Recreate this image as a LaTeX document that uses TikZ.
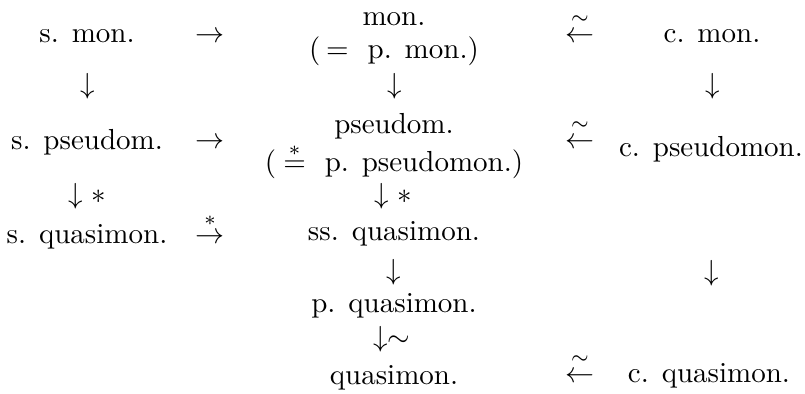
\documentclass[tikz,border=0pt]{standalone}
\usepackage{amsmath}
\begin{document}
\begin{tikzpicture}[x=0.3448pt,y=-0.3448pt,
  txt/.style={anchor=base,inner sep=0pt,outer sep=0pt},
  sym/.style={anchor=base,inner sep=0pt,outer sep=0pt},
  over/.style={anchor=center,inner sep=0pt,outer sep=0pt}]
\useasboundingbox (0,0) rectangle (805,394);
% left column
\node[txt] (smon) at (87,43) {s. mon.};
\node[sym] (d1) at (88,94) {$\downarrow$};
\node[txt] (spseudo) at (87,150) {s. pseudom.};
\node[sym] (d2) at (87.5,204) {$\downarrow *$};
\node[txt] (squasi) at (87,244) {s. quasimon.};
% horizontal arrows, left
\node[sym] (h1) at (210,43) {$\rightarrow$};
\node[sym] (h2) at (210,149) {$\rightarrow$};
\node[sym] (h3) at (210,244) {$\rightarrow$};
\node[over] (h3s) at (210,221) {$\scriptstyle *$};
% centre column
\node[txt] (mon) at (394,26) {mon.};
\node[txt] (pmon) at (394,59) {(\kern2pt$=$\kern6.5pt p. mon.)};
\node[sym] (d3) at (395,94) {$\downarrow$};
\node[txt] (pseudo) at (394,134) {pseudom.};
\node[txt] (ppseudo) at (394,172) {(\kern2.5pt$\stackrel{*}{=}$\kern6.5pt p. pseudomon.)};
\node[sym] (d4) at (393.5,204) {$\downarrow *$};
\node[txt] (ssquasi) at (394,241) {ss. quasimon.};
\node[sym] (d5) at (394,280) {$\downarrow$};
\node[txt] (pquasi) at (394,313) {p. quasimon.};
\node[sym] (d6) at (392,347) {$\downarrow\sim$};
\node[txt] (quasi) at (394,385) {quasimon.};
% horizontal arrows, right
\node[sym] (h4) at (580,43) {$\leftarrow$};
\node[over] (h4s) at (580,20) {$\scriptstyle\sim$};
\node[sym] (h5) at (580,149) {$\leftarrow$};
\node[over] (h5s) at (580,126) {$\scriptstyle\sim$};
\node[sym] (h6) at (580,383) {$\leftarrow$};
\node[over] (h6s) at (580,360) {$\scriptstyle\sim$};
% right column
\node[txt] (cmon) at (712,43) {c. mon.};
\node[sym] (d7) at (713,94) {$\downarrow$};
\node[txt] (cpseudo) at (711,157) {c. pseudomon.};
\node[sym] (d8) at (712,281) {$\downarrow$};
\node[txt] (cquasi) at (709,383) {c. quasimon.};
\end{tikzpicture}
\end{document}
